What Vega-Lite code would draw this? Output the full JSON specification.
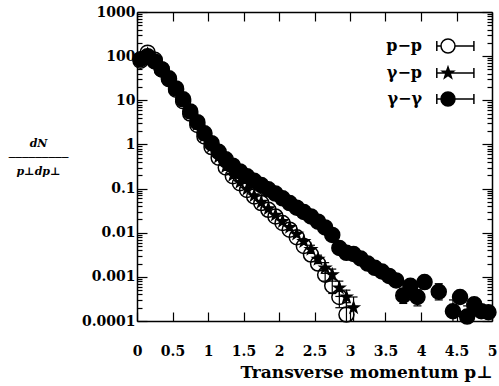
{
  "$schema": "https://vega.github.io/schema/vega-lite/v6.json",
  "width": 355,
  "height": 309,
  "autosize": "none",
  "padding": {"left": 137, "top": 12, "right": 7, "bottom": 65},
  "background": "white",
  "config": {"view": {"stroke": null}, "axis": {"grid": false}},
  "data": {"values": [
    {"s":"p−p","pt":0.05,"v":79},{"s":"p−p","pt":0.15,"v":120},{"s":"p−p","pt":0.25,"v":83},{"s":"p−p","pt":0.35,"v":50},
    {"s":"p−p","pt":0.45,"v":30},{"s":"p−p","pt":0.55,"v":17.4},{"s":"p−p","pt":0.65,"v":9.5},{"s":"p−p","pt":0.75,"v":5.0},
    {"s":"p−p","pt":0.85,"v":2.75},{"s":"p−p","pt":0.95,"v":1.51},{"s":"p−p","pt":1.05,"v":0.87},{"s":"p−p","pt":1.15,"v":0.5},
    {"s":"p−p","pt":1.25,"v":0.3},{"s":"p−p","pt":1.35,"v":0.19},{"s":"p−p","pt":1.45,"v":0.132},{"s":"p−p","pt":1.55,"v":0.093},
    {"s":"p−p","pt":1.65,"v":0.066},{"s":"p−p","pt":1.75,"v":0.047},{"s":"p−p","pt":1.85,"v":0.033},{"s":"p−p","pt":1.95,"v":0.0234},
    {"s":"p−p","pt":2.05,"v":0.0166},{"s":"p−p","pt":2.15,"v":0.0117},{"s":"p−p","pt":2.25,"v":0.0079},{"s":"p−p","pt":2.35,"v":0.005},
    {"s":"p−p","pt":2.45,"v":0.0032},{"s":"p−p","pt":2.55,"v":0.002},
    {"s":"p−p","pt":2.65,"v":0.00112,"lo":0.0008,"hi":0.0016},
    {"s":"p−p","pt":2.75,"v":0.00063,"lo":0.00042,"hi":0.0009},
    {"s":"p−p","pt":2.85,"v":0.00035,"lo":0.0002,"hi":0.0006},
    {"s":"p−p","pt":2.95,"v":0.00014,"lo":0.00006,"hi":0.00026},
    {"s":"γ−p","pt":0.05,"v":82},{"s":"γ−p","pt":0.15,"v":112},{"s":"γ−p","pt":0.25,"v":80},{"s":"γ−p","pt":0.35,"v":52},
    {"s":"γ−p","pt":0.45,"v":31},{"s":"γ−p","pt":0.55,"v":17.8},{"s":"γ−p","pt":0.65,"v":9.8},{"s":"γ−p","pt":0.75,"v":5.2},
    {"s":"γ−p","pt":0.85,"v":2.85},{"s":"γ−p","pt":0.95,"v":1.55},{"s":"γ−p","pt":1.05,"v":0.9},{"s":"γ−p","pt":1.15,"v":0.52},
    {"s":"γ−p","pt":1.25,"v":0.31},{"s":"γ−p","pt":1.35,"v":0.2},{"s":"γ−p","pt":1.45,"v":0.138},{"s":"γ−p","pt":1.55,"v":0.097},
    {"s":"γ−p","pt":1.65,"v":0.069},{"s":"γ−p","pt":1.75,"v":0.049},{"s":"γ−p","pt":1.85,"v":0.035},{"s":"γ−p","pt":1.95,"v":0.025},
    {"s":"γ−p","pt":2.05,"v":0.018},{"s":"γ−p","pt":2.15,"v":0.0132},{"s":"γ−p","pt":2.25,"v":0.0093},{"s":"γ−p","pt":2.35,"v":0.0063},
    {"s":"γ−p","pt":2.45,"v":0.0042,"lo":0.0034,"hi":0.0052},
    {"s":"γ−p","pt":2.55,"v":0.0025,"lo":0.002,"hi":0.0031},
    {"s":"γ−p","pt":2.65,"v":0.0016,"lo":0.0012,"hi":0.0021},
    {"s":"γ−p","pt":2.75,"v":0.00112,"lo":0.0008,"hi":0.0015},
    {"s":"γ−p","pt":2.85,"v":0.00056,"lo":0.00036,"hi":0.0008},
    {"s":"γ−p","pt":2.95,"v":0.00035,"lo":0.0002,"hi":0.0005},
    {"s":"γ−p","pt":3.05,"v":0.0002,"lo":0.00008,"hi":0.00035},
    {"s":"γ−γ","pt":0.05,"v":85},{"s":"γ−γ","pt":0.15,"v":100},{"s":"γ−γ","pt":0.25,"v":76},{"s":"γ−γ","pt":0.35,"v":50},
    {"s":"γ−γ","pt":0.45,"v":31.6},{"s":"γ−γ","pt":0.55,"v":18.6},{"s":"γ−γ","pt":0.65,"v":10.5},{"s":"γ−γ","pt":0.75,"v":5.6},
    {"s":"γ−γ","pt":0.85,"v":3.2},{"s":"γ−γ","pt":0.95,"v":1.78},{"s":"γ−γ","pt":1.05,"v":1.07},{"s":"γ−γ","pt":1.15,"v":0.68},
    {"s":"γ−γ","pt":1.25,"v":0.46},{"s":"γ−γ","pt":1.35,"v":0.33},{"s":"γ−γ","pt":1.45,"v":0.245},{"s":"γ−γ","pt":1.55,"v":0.19},
    {"s":"γ−γ","pt":1.65,"v":0.15},{"s":"γ−γ","pt":1.75,"v":0.12},{"s":"γ−γ","pt":1.85,"v":0.096},{"s":"γ−γ","pt":1.95,"v":0.077},
    {"s":"γ−γ","pt":2.05,"v":0.06},{"s":"γ−γ","pt":2.15,"v":0.047},{"s":"γ−γ","pt":2.25,"v":0.037},{"s":"γ−γ","pt":2.35,"v":0.0295},
    {"s":"γ−γ","pt":2.45,"v":0.0234},{"s":"γ−γ","pt":2.55,"v":0.0178},{"s":"γ−γ","pt":2.65,"v":0.0132},{"s":"γ−γ","pt":2.75,"v":0.0089},
    {"s":"γ−γ","pt":2.85,"v":0.0045},{"s":"γ−γ","pt":2.95,"v":0.0035},{"s":"γ−γ","pt":3.05,"v":0.0033},{"s":"γ−γ","pt":3.15,"v":0.0026},
    {"s":"γ−γ","pt":3.25,"v":0.002},{"s":"γ−γ","pt":3.35,"v":0.0016},{"s":"γ−γ","pt":3.45,"v":0.00132},{"s":"γ−γ","pt":3.55,"v":0.00105},
    {"s":"γ−γ","pt":3.65,"v":0.00083},
    {"s":"γ−γ","pt":3.75,"v":0.00038,"lo":0.00025,"hi":0.00055},
    {"s":"γ−γ","pt":3.85,"v":0.00063},
    {"s":"γ−γ","pt":3.95,"v":0.00035,"lo":0.00022,"hi":0.0005},
    {"s":"γ−γ","pt":4.05,"v":0.00076},
    {"s":"γ−γ","pt":4.25,"v":0.00046,"lo":0.0003,"hi":0.0007},
    {"s":"γ−γ","pt":4.45,"v":0.000166,"lo":0.00008,"hi":0.0003},
    {"s":"γ−γ","pt":4.55,"v":0.00035},
    {"s":"γ−γ","pt":4.65,"v":0.000126,"lo":0.00007,"hi":0.00022},
    {"s":"γ−γ","pt":4.75,"v":0.00024},
    {"s":"γ−γ","pt":4.85,"v":0.000166},
    {"s":"γ−γ","pt":4.95,"v":0.000158}
  ]},
  "layer": [
    {
      "transform": [{"filter": "isValid(datum.lo)"}],
      "mark": {"type": "rule", "color": "black", "strokeWidth": 1.2, "clip": true},
      "encoding": {
        "x": {"field": "pt", "type": "quantitative", "scale": {"domain": [0, 5]}, "axis": null},
        "y": {"field": "lo", "type": "quantitative", "scale": {"type": "log", "domain": [0.0001, 1000]}, "axis": null},
        "y2": {"field": "hi"}
      }
    },
    {
      "transform": [{"filter": "isValid(datum.lo)"}],
      "mark": {"type": "tick", "orient": "horizontal", "color": "black", "size": 8, "thickness": 1.2, "clip": true, "opacity": 1},
      "encoding": {
        "x": {"field": "pt", "type": "quantitative", "scale": {"domain": [0, 5]}, "axis": null},
        "y": {"field": "lo", "type": "quantitative", "scale": {"type": "log", "domain": [0.0001, 1000]}, "axis": null}
      }
    },
    {
      "transform": [{"filter": "isValid(datum.hi)"}],
      "mark": {"type": "tick", "orient": "horizontal", "color": "black", "size": 8, "thickness": 1.2, "clip": true, "opacity": 1},
      "encoding": {
        "x": {"field": "pt", "type": "quantitative", "scale": {"domain": [0, 5]}, "axis": null},
        "y": {"field": "hi", "type": "quantitative", "scale": {"type": "log", "domain": [0.0001, 1000]}, "axis": null}
      }
    },
    {
      "mark": {"type": "point", "filled": true, "stroke": "black", "strokeWidth": 1.5, "opacity": 1},
      "encoding": {
        "x": {"field": "pt", "type": "quantitative", "scale": {"domain": [0, 5]},
          "axis": {"orient": "bottom", "values": [0,0.5,1,1.5,2,2.5,3,3.5,4,4.5,5], "format": "~g",
            "labelFont": "DejaVu Serif", "labelFontWeight": "bold", "labelFontSize": 14, "labelColor": "black",
            "labelFlush": false, "labelOverlap": false, "labelBound": false,
            "tickSize": -9, "tickColor": "black", "tickWidth": 1.2, "domainColor": "black", "domainWidth": 1.5,
            "labelPadding": 32,
            "title": "Transverse momentum p⊥", "titleFont": "DejaVu Serif", "titleFontWeight": "bold", "titleFontSize": 17,
            "titleColor": "black", "titlePadding": 6, "titleAnchor": "end"}},
        "y": {"field": "v", "type": "quantitative", "scale": {"type": "log", "domain": [0.0001, 1000]},
          "axis": {"orient": "left",
            "values": [0.0001,0.0002,0.0003,0.0004,0.0005,0.0006,0.0007,0.0008,0.0009,0.001,0.002,0.003,0.004,0.005,0.006,0.007,0.008,0.009,0.01,0.02,0.03,0.04,0.05,0.06,0.07,0.08,0.09,0.1,0.2,0.3,0.4,0.5,0.6,0.7,0.8,0.9,1,2,3,4,5,6,7,8,9,10,20,30,40,50,60,70,80,90,100,200,300,400,500,600,700,800,900,1000],
            "format": "~g",
            "labelExpr": "indexof(['0.0001','0.001','0.01','0.1','1','10','100','1000'], datum.label) >= 0 ? datum.label : ''",
            "labelFont": "DejaVu Serif", "labelFontWeight": "bold", "labelFontSize": 14, "labelColor": "black",
            "labelOverlap": false, "labelBound": false, "labelFlush": false,
            "tickSize": {"condition": {"test": "indexof([0.0001,0.001,0.01,0.1,1,10,100,1000], datum.value) >= 0", "value": -10}, "value": -5},
            "tickColor": "black", "tickWidth": 1.2, "domainColor": "black", "domainWidth": 1.5,
            "labelPadding": 12,
            "title": ["dN", "─────────", "p⊥dp⊥"], "titleFont": "DejaVu Serif", "titleFontWeight": "bold", "titleFontStyle": "italic",
            "titleFontSize": 11, "titleLineHeight": 14, "titleColor": "black",
            "titleAngle": 0, "titleAlign": "center", "titleBaseline": "middle", "titleX": -99, "titleY": 131}},
        "shape": {"condition": {"test": "datum.s === 'γ−p'", "value": "M0,-1L0.235,-0.324L0.951,-0.309L0.38,0.124L0.588,0.809L0,0.4L-0.588,0.809L-0.38,0.124L-0.951,-0.309L-0.235,-0.324Z"}, "value": "circle"},
        "fill": {"condition": {"test": "datum.s === 'p−p'", "value": "transparent"}, "value": "black"},
        "size": {"condition": {"test": "datum.s === 'γ−p'", "value": 130}, "value": 225}
      }
    },
    {
      "transform": [{"filter": "false"}],
      "mark": {"type": "point", "filled": true, "stroke": "black", "strokeWidth": 1.5, "opacity": 1},
      "encoding": {
        "x": {"field": "pt", "type": "quantitative", "scale": {"domain": [0, 5]},
          "axis": {"orient": "top", "values": [0,0.5,1,1.5,2,2.5,3,3.5,4,4.5,5], "labels": false, "title": null,
            "tickSize": -9, "tickColor": "black", "tickWidth": 1.2, "domainColor": "black", "domainWidth": 1.5}},
        "y": {"field": "v", "type": "quantitative", "scale": {"type": "log", "domain": [0.0001, 1000]},
          "axis": {"orient": "right", "labels": false, "title": null,
            "values": [0.0001,0.0002,0.0003,0.0004,0.0005,0.0006,0.0007,0.0008,0.0009,0.001,0.002,0.003,0.004,0.005,0.006,0.007,0.008,0.009,0.01,0.02,0.03,0.04,0.05,0.06,0.07,0.08,0.09,0.1,0.2,0.3,0.4,0.5,0.6,0.7,0.8,0.9,1,2,3,4,5,6,7,8,9,10,20,30,40,50,60,70,80,90,100,200,300,400,500,600,700,800,900,1000],
            "tickSize": {"condition": {"test": "indexof([0.0001,0.001,0.01,0.1,1,10,100,1000], datum.value) >= 0", "value": -10}, "value": -5},
            "tickColor": "black", "tickWidth": 1.2, "domainColor": "black", "domainWidth": 1.5}},
        "shape": {"field": "s", "type": "nominal",
          "scale": {"domain": ["p−p", "γ−p", "γ−γ"],
            "range": [
              "M1,0A1,1 0 1,1 -1,0A1,1 0 1,1 1,0Z M-1.6,0H-1M1,0H3.7M-1.6,-0.7V0.7M3.7,-0.7V0.7",
              "M0,-0.85L0.2,-0.275L0.808,-0.263L0.323,0.105L0.5,0.688L0,0.34L-0.5,0.688L-0.323,0.105L-0.808,-0.263L-0.2,-0.275Z M-1.6,0H3.7M-1.6,-0.7V0.7M3.7,-0.7V0.7",
              "M1,0A1,1 0 1,1 -1,0A1,1 0 1,1 1,0Z M-1.6,0H-1M1,0H3.7M-1.6,-0.7V0.7M3.7,-0.7V0.7"]},
          "legend": {"orient": "none", "legendX": 303, "legendY": 26, "title": null,
            "labelFont": "DejaVu Serif", "labelFontWeight": "bold", "labelFontSize": 16, "labelColor": "black",
            "labelAlign": "right", "labelOffset": -34, "symbolSize": 196, "rowPadding": 8,
            "symbolStrokeColor": "black", "symbolStrokeWidth": 1.5, "symbolOpacity": 1}},
        "fill": {"field": "s", "type": "nominal",
          "scale": {"domain": ["p−p", "γ−p", "γ−γ"], "range": ["transparent", "black", "black"]},
          "legend": {"orient": "none", "legendX": 303, "legendY": 26, "title": null,
            "labelFont": "DejaVu Serif", "labelFontWeight": "bold", "labelFontSize": 16, "labelColor": "black",
            "labelAlign": "right", "labelOffset": -34, "symbolSize": 196, "rowPadding": 8,
            "symbolStrokeColor": "black", "symbolStrokeWidth": 1.5, "symbolOpacity": 1}},
        "stroke": {"field": "s", "type": "nominal",
          "scale": {"domain": ["p−p", "γ−p", "γ−γ"], "range": ["black", "black", "black"]},
          "legend": {"orient": "none", "legendX": 303, "legendY": 26, "title": null,
            "labelFont": "DejaVu Serif", "labelFontWeight": "bold", "labelFontSize": 16, "labelColor": "black",
            "labelAlign": "right", "labelOffset": -34, "symbolSize": 196, "rowPadding": 8,
            "symbolStrokeColor": "black", "symbolStrokeWidth": 1.5, "symbolOpacity": 1}}
      }
    }
  ],
  "resolve": {"axis": {"x": "independent", "y": "independent"}}
}
